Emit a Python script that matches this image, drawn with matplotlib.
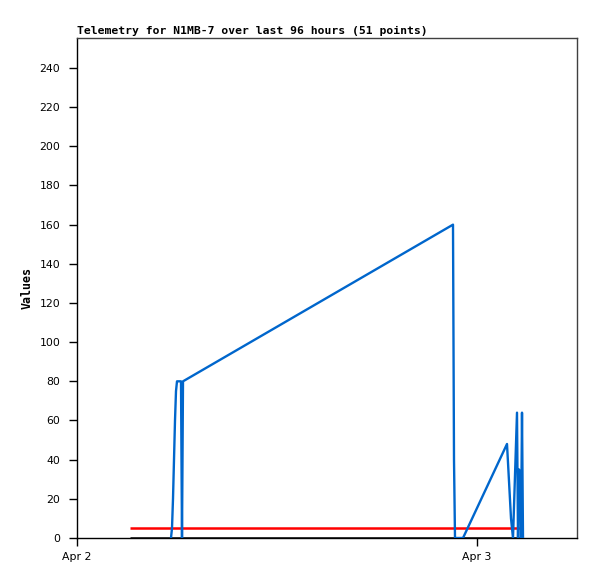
import matplotlib
matplotlib.use("Agg")
import matplotlib.pyplot as plt

# hours since Apr 2 00:00
blue_hours = [5.64, 5.70, 5.76, 5.82, 5.88, 5.94, 6.00, 6.24, 6.30, 6.36,
              22.56, 22.58, 22.62, 22.68, 23.16, 25.80, 26.04, 26.16,
              26.40, 26.46, 26.52, 26.58, 26.64, 26.70, 26.76]
blue_values = [0, 5, 20, 40, 60, 75, 80, 80, 0, 80,
               160, 120, 40, 0, 0, 48, 10, 0,
               64, 0, 35, 30, 0, 64, 0]
red_hours = [3.18, 26.55]
red_values = [5, 5]
black_hours = [3.18, 26.6]
black_values = [0, 0]

tick_hours = [0, 24]
tick_labels = ["Apr 2", "Apr 3"]
y_ticks = list(range(0, 241, 20))

fig = plt.figure(figsize=(5.97, 5.79), dpi=100)
ax = fig.add_axes([77/597, 41/579, 500/597, 500/579])

ax.plot(black_hours, black_values, color="black", lw=1.8, solid_capstyle="butt", zorder=2)
ax.plot(red_hours, red_values, color="#ff0000", lw=1.8, solid_capstyle="butt", zorder=3)
ax.plot(blue_hours, blue_values, color="#0066cc", lw=1.7, zorder=4)

ax.set_xlim(0, 30)
ax.set_ylim(0, 255.3)
ax.set_xticks(tick_hours)
ax.set_xticklabels(tick_labels)
ax.set_yticks(y_ticks)

for s in ["top", "right"]:
    ax.spines[s].set_color("#404040")
for s in ["left", "bottom"]:
    ax.spines[s].set_color("black")
for s in ax.spines.values():
    s.set_linewidth(1.0)

ax.tick_params(axis="both", direction="out", length=6, width=1, labelsize=7.8,
               colors="black")
ax.tick_params(axis="x", pad=4)
ax.tick_params(axis="y", pad=6)

ax.set_ylabel("Values", fontfamily="DejaVu Sans Mono", fontweight="bold", fontsize=8.4, labelpad=4)
fig.text(77/597, 1 - 34/579, "Telemetry for N1MB-7 over last 96 hours (51 points)",
         fontfamily="DejaVu Sans Mono", fontweight="bold", fontsize=8.2, ha="left", va="baseline")

fig.savefig("out.png", dpi=100)
